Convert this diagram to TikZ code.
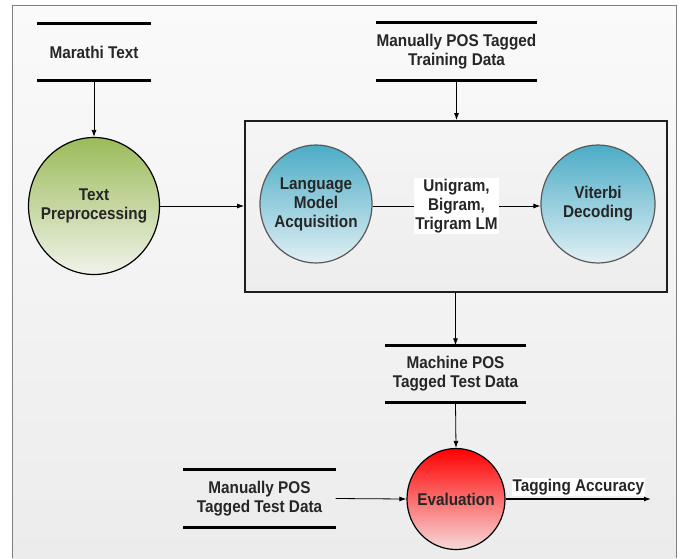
\documentclass[tikz,border=0pt]{standalone}
\usepackage{fontspec}
\setmainfont{Liberation Sans}[FakeStretch=0.9]
\usetikzlibrary{arrows.meta,shapes.geometric}
\definecolor{frameg}{HTML}{7F7F7F}
\definecolor{bgtop}{HTML}{FAFAFA}
\definecolor{bgbot}{HTML}{ECECEC}
\definecolor{greentop}{HTML}{9BBB59}
\definecolor{greenbot}{HTML}{F0F3EA}
\definecolor{bluetop}{HTML}{4BACC6}
\definecolor{bluebot}{HTML}{E2F0F4}
\definecolor{redtop}{HTML}{FF0000}
\definecolor{redbot}{HTML}{F6DADA}
\definecolor{boxline}{HTML}{1E1E1E}
\begin{document}
\begin{tikzpicture}[x=1pt,y=-1pt,
  every node/.style={font=\fontsize{17}{19}\selectfont\bfseries, align=center, text=black!85},
  store/.style={inner sep=0pt, minimum width=#1, minimum height=57pt},
  storeline/.style={line width=3pt, black},
  proc/.style={ellipse, draw, line width=1.2pt, inner sep=0pt},
  greenproc/.style={proc, black, top color=greentop, bottom color=greenbot},
  blueproc/.style={proc, draw=black!65, top color=bluetop, bottom color=bluebot},
  redproc/.style={proc, black, top color=redtop, bottom color=redbot},
  inside/.style={label={[align=center, text=black!85]center:#1}},
  flow/.style={-{Latex[length=7pt,width=5pt]}, line width=0.8pt, black},
  lbl/.style={fill=white, inner sep=1pt}
]
\useasboundingbox (0,0) rectangle (687,558);
% background frame
\fill[top color=bgtop, bottom color=bgbot] (12,5) rectangle (676,558);
\draw[frameg, line width=1pt] (12,558) -- (12,5) -- (676,5) -- (676,558);

% big box
\node[draw=boxline, line width=1.8pt, top color=white!96!black, bottom color=black!7,
      minimum width=422pt, minimum height=171pt, inner sep=0pt] (box) at (456,206.5) {};

% data stores
\node[store=113] (mar) at (94,52) {Marathi Text};
\draw[storeline] (mar.north west) -- (mar.north east) (mar.south west) -- (mar.south east);

\node[store=161] (train) at (456.5,51.5) {Manually POS Tagged\\Training Data};
\draw[storeline] (train.north west) -- (train.north east) (train.south west) -- (train.south east);

\node[store=141] (mach) at (455.5,374) {Machine POS\\Tagged Test Data};
\draw[storeline] (mach.north west) -- (mach.north east) (mach.south west) -- (mach.south east);

\node[store=152] (mtest) at (259.5,498.5) {Manually POS\\Tagged Test Data};
\draw[storeline] (mtest.north west) -- (mtest.north east) (mtest.south west) -- (mtest.south east);

% processes
\node[greenproc, minimum width=131pt, minimum height=137pt, inside={Text\\Preprocessing}] (tp) at (94,206) {};
\node[blueproc, minimum width=112pt, minimum height=118pt, inside={Language\\Model\\Acquisition}] (lma) at (316,204) {};
\node[blueproc, minimum width=114pt, minimum height=118pt, inside={Viterbi\\Decoding}] (vit) at (598,204) {};
\node[redproc, minimum width=98pt, minimum height=101pt, inside={Evaluation}] (eval) at (456,499) {};

\coordinate (out) at (651,499);

% connectors
\draw[flow] (mar.south) -- (tp.north);
\draw[flow] (train.south) -- (box.north -| train.south);
\draw[flow] (tp.east) -- (tp.east -| box.west);
\draw[flow] (lma.east |- 0,206) -- node[lbl] {Unigram,\\Bigram,\\Trigram LM} (vit.west |- 0,206);
\draw[flow] (box.south -| mach.north) -- (mach.north);
\draw[flow] (mach.south) -- (eval.north);
\draw[flow] (mtest.east) -- (eval.west);
\draw[flow, line width=1.2pt] (eval.east) -- node[lbl, above=2pt] {Tagging Accuracy} (out);
\end{tikzpicture}
\end{document}
